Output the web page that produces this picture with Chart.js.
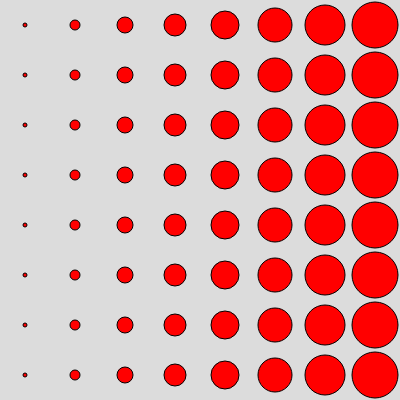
<!DOCTYPE html>
<html>
<head>
<meta charset="utf-8">
<script src="https://cdn.jsdelivr.net/npm/chart.js@4"></script>
<style>
  html, body { margin: 0; padding: 0; background: #dcdcdc; }
  #wrap { width: 400px; height: 400px; }
</style>
</head>
<body>
<div id="wrap"><canvas id="chart"></canvas></div>
<script>
// grid positions and bubble sizes
const columns = [0, 1, 2, 3, 4, 5, 6, 7];
const rows = [0, 1, 2, 3, 4, 5, 6, 7];
const radii = [2, 5, 8, 11, 14, 17, 20, 23];

const points = [];
rows.forEach(row => {
    columns.forEach((col, i) => {
        points.push({ x: col, y: row, r: radii[i] });
    });
});

const ctx = document.getElementById('chart').getContext('2d');
new Chart(ctx, {
    type: 'bubble',
    data: {
        datasets: [{
            data: points,
            backgroundColor: '#ff0000',
            borderColor: '#000000',
            borderWidth: 1,
            hoverRadius: 0
        }]
    },
    options: {
        animation: false,
        responsive: true,
        maintainAspectRatio: false,
        clip: false,
        layout: { padding: 0, autoPadding: false },
        plugins: {
            legend: { display: false },
            tooltip: { enabled: false }
        },
        scales: {
            x: { type: 'linear', min: -0.5, max: 7.5, display: false },
            y: { type: 'linear', min: -0.5, max: 7.5, display: false, reverse: true }
        }
    }
});
</script>
</body>
</html>
